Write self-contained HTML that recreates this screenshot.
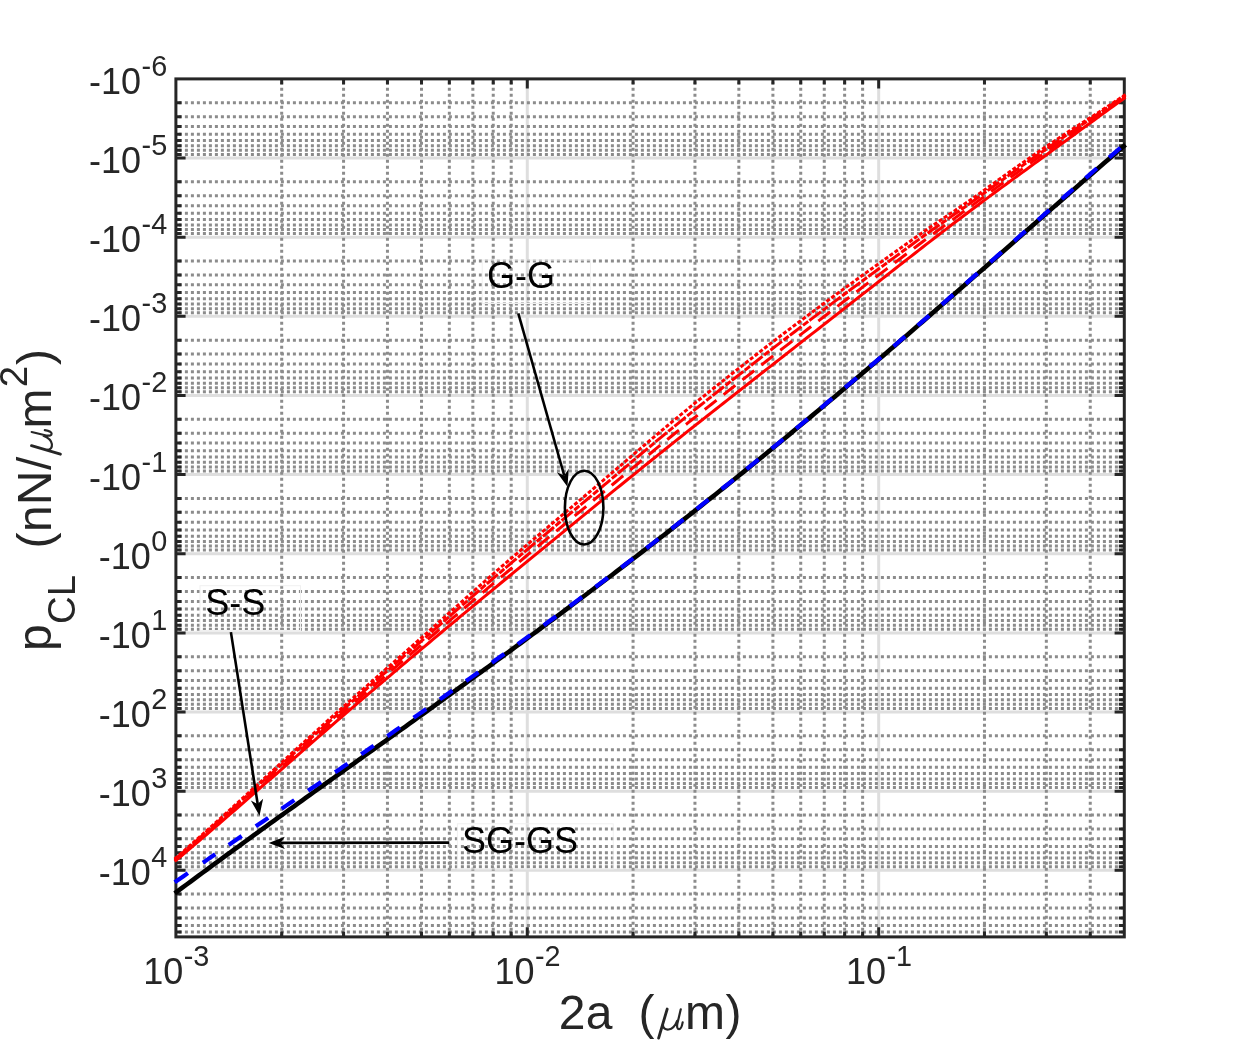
<!DOCTYPE html>
<html><head><meta charset="utf-8"><title>Chart</title>
<style>html,body{margin:0;padding:0;background:#fff;}body{width:1242px;height:1053px;overflow:hidden;font-family:"Liberation Sans",sans-serif;}svg{display:block;will-change:transform;}</style>
</head><body>
<svg width="1242" height="1053" viewBox="0 0 1242 1053">
<rect x="0" y="0" width="1242" height="1053" fill="#fff"/>
<g fill="none" stroke="#dedede" stroke-width="3">
<path d="M175.90 158.04H1124.30"/>
<path d="M175.90 237.18H1124.30"/>
<path d="M175.90 316.32H1124.30"/>
<path d="M175.90 395.46H1124.30"/>
<path d="M175.90 474.60H1124.30"/>
<path d="M175.90 553.74H1124.30"/>
<path d="M175.90 632.88H1124.30"/>
<path d="M175.90 712.02H1124.30"/>
<path d="M175.90 791.16H1124.30"/>
<path d="M175.90 870.30H1124.30"/>
<path d="M527.29 78.70V936.90"/>
<path d="M878.69 78.70V936.90"/>
</g>
<g fill="none" stroke="#8c8c8c" stroke-width="3" stroke-dasharray="3 3">
<path d="M178.90 102.72H1124.30"/>
<path d="M178.90 116.66H1124.30"/>
<path d="M178.90 126.55H1124.30"/>
<path d="M178.90 134.22H1124.30"/>
<path d="M178.90 140.48H1124.30"/>
<path d="M178.90 145.78H1124.30"/>
<path d="M178.90 150.37H1124.30"/>
<path d="M178.90 154.42H1124.30"/>
<path d="M178.90 181.86H1124.30"/>
<path d="M178.90 195.80H1124.30"/>
<path d="M178.90 205.69H1124.30"/>
<path d="M178.90 213.36H1124.30"/>
<path d="M178.90 219.62H1124.30"/>
<path d="M178.90 224.92H1124.30"/>
<path d="M178.90 229.51H1124.30"/>
<path d="M178.90 233.56H1124.30"/>
<path d="M178.90 261.00H1124.30"/>
<path d="M178.90 274.94H1124.30"/>
<path d="M178.90 284.83H1124.30"/>
<path d="M178.90 292.50H1124.30"/>
<path d="M178.90 298.76H1124.30"/>
<path d="M178.90 304.06H1124.30"/>
<path d="M178.90 308.65H1124.30"/>
<path d="M178.90 312.70H1124.30"/>
<path d="M178.90 340.14H1124.30"/>
<path d="M178.90 354.08H1124.30"/>
<path d="M178.90 363.97H1124.30"/>
<path d="M178.90 371.64H1124.30"/>
<path d="M178.90 377.90H1124.30"/>
<path d="M178.90 383.20H1124.30"/>
<path d="M178.90 387.79H1124.30"/>
<path d="M178.90 391.84H1124.30"/>
<path d="M178.90 419.28H1124.30"/>
<path d="M178.90 433.22H1124.30"/>
<path d="M178.90 443.11H1124.30"/>
<path d="M178.90 450.78H1124.30"/>
<path d="M178.90 457.04H1124.30"/>
<path d="M178.90 462.34H1124.30"/>
<path d="M178.90 466.93H1124.30"/>
<path d="M178.90 470.98H1124.30"/>
<path d="M178.90 498.42H1124.30"/>
<path d="M178.90 512.36H1124.30"/>
<path d="M178.90 522.25H1124.30"/>
<path d="M178.90 529.92H1124.30"/>
<path d="M178.90 536.18H1124.30"/>
<path d="M178.90 541.48H1124.30"/>
<path d="M178.90 546.07H1124.30"/>
<path d="M178.90 550.12H1124.30"/>
<path d="M178.90 577.56H1124.30"/>
<path d="M178.90 591.50H1124.30"/>
<path d="M178.90 601.39H1124.30"/>
<path d="M178.90 609.06H1124.30"/>
<path d="M178.90 615.32H1124.30"/>
<path d="M178.90 620.62H1124.30"/>
<path d="M178.90 625.21H1124.30"/>
<path d="M178.90 629.26H1124.30"/>
<path d="M178.90 656.70H1124.30"/>
<path d="M178.90 670.64H1124.30"/>
<path d="M178.90 680.53H1124.30"/>
<path d="M178.90 688.20H1124.30"/>
<path d="M178.90 694.46H1124.30"/>
<path d="M178.90 699.76H1124.30"/>
<path d="M178.90 704.35H1124.30"/>
<path d="M178.90 708.40H1124.30"/>
<path d="M178.90 735.84H1124.30"/>
<path d="M178.90 749.78H1124.30"/>
<path d="M178.90 759.67H1124.30"/>
<path d="M178.90 767.34H1124.30"/>
<path d="M178.90 773.60H1124.30"/>
<path d="M178.90 778.90H1124.30"/>
<path d="M178.90 783.49H1124.30"/>
<path d="M178.90 787.54H1124.30"/>
<path d="M178.90 814.98H1124.30"/>
<path d="M178.90 828.92H1124.30"/>
<path d="M178.90 838.81H1124.30"/>
<path d="M178.90 846.48H1124.30"/>
<path d="M178.90 852.74H1124.30"/>
<path d="M178.90 858.04H1124.30"/>
<path d="M178.90 862.63H1124.30"/>
<path d="M178.90 866.68H1124.30"/>
<path d="M178.90 894.12H1124.30"/>
<path d="M178.90 908.06H1124.30"/>
<path d="M178.90 917.95H1124.30"/>
<path d="M178.90 925.62H1124.30"/>
<path d="M178.90 931.88H1124.30"/>
<path d="M281.68 81.70V936.90"/>
<path d="M343.56 81.70V936.90"/>
<path d="M387.46 81.70V936.90"/>
<path d="M421.51 81.70V936.90"/>
<path d="M449.34 81.70V936.90"/>
<path d="M472.86 81.70V936.90"/>
<path d="M493.24 81.70V936.90"/>
<path d="M511.21 81.70V936.90"/>
<path d="M633.07 81.70V936.90"/>
<path d="M694.95 81.70V936.90"/>
<path d="M738.85 81.70V936.90"/>
<path d="M772.91 81.70V936.90"/>
<path d="M800.73 81.70V936.90"/>
<path d="M824.26 81.70V936.90"/>
<path d="M844.63 81.70V936.90"/>
<path d="M862.61 81.70V936.90"/>
<path d="M984.47 81.70V936.90"/>
<path d="M1046.34 81.70V936.90"/>
<path d="M1090.25 81.70V936.90"/>
</g>
<g fill="none" stroke="#262626" stroke-width="3">
<path d="M175.90 158.04h9.7M1124.30 158.04h-9.7"/>
<path d="M175.90 237.18h9.7M1124.30 237.18h-9.7"/>
<path d="M175.90 316.32h9.7M1124.30 316.32h-9.7"/>
<path d="M175.90 395.46h9.7M1124.30 395.46h-9.7"/>
<path d="M175.90 474.60h9.7M1124.30 474.60h-9.7"/>
<path d="M175.90 553.74h9.7M1124.30 553.74h-9.7"/>
<path d="M175.90 632.88h9.7M1124.30 632.88h-9.7"/>
<path d="M175.90 712.02h9.7M1124.30 712.02h-9.7"/>
<path d="M175.90 791.16h9.7M1124.30 791.16h-9.7"/>
<path d="M175.90 870.30h9.7M1124.30 870.30h-9.7"/>
<path d="M175.90 102.72h5.5M1124.30 102.72h-5.5"/>
<path d="M175.90 116.66h5.5M1124.30 116.66h-5.5"/>
<path d="M175.90 126.55h5.5M1124.30 126.55h-5.5"/>
<path d="M175.90 134.22h5.5M1124.30 134.22h-5.5"/>
<path d="M175.90 140.48h5.5M1124.30 140.48h-5.5"/>
<path d="M175.90 145.78h5.5M1124.30 145.78h-5.5"/>
<path d="M175.90 150.37h5.5M1124.30 150.37h-5.5"/>
<path d="M175.90 154.42h5.5M1124.30 154.42h-5.5"/>
<path d="M175.90 181.86h5.5M1124.30 181.86h-5.5"/>
<path d="M175.90 195.80h5.5M1124.30 195.80h-5.5"/>
<path d="M175.90 205.69h5.5M1124.30 205.69h-5.5"/>
<path d="M175.90 213.36h5.5M1124.30 213.36h-5.5"/>
<path d="M175.90 219.62h5.5M1124.30 219.62h-5.5"/>
<path d="M175.90 224.92h5.5M1124.30 224.92h-5.5"/>
<path d="M175.90 229.51h5.5M1124.30 229.51h-5.5"/>
<path d="M175.90 233.56h5.5M1124.30 233.56h-5.5"/>
<path d="M175.90 261.00h5.5M1124.30 261.00h-5.5"/>
<path d="M175.90 274.94h5.5M1124.30 274.94h-5.5"/>
<path d="M175.90 284.83h5.5M1124.30 284.83h-5.5"/>
<path d="M175.90 292.50h5.5M1124.30 292.50h-5.5"/>
<path d="M175.90 298.76h5.5M1124.30 298.76h-5.5"/>
<path d="M175.90 304.06h5.5M1124.30 304.06h-5.5"/>
<path d="M175.90 308.65h5.5M1124.30 308.65h-5.5"/>
<path d="M175.90 312.70h5.5M1124.30 312.70h-5.5"/>
<path d="M175.90 340.14h5.5M1124.30 340.14h-5.5"/>
<path d="M175.90 354.08h5.5M1124.30 354.08h-5.5"/>
<path d="M175.90 363.97h5.5M1124.30 363.97h-5.5"/>
<path d="M175.90 371.64h5.5M1124.30 371.64h-5.5"/>
<path d="M175.90 377.90h5.5M1124.30 377.90h-5.5"/>
<path d="M175.90 383.20h5.5M1124.30 383.20h-5.5"/>
<path d="M175.90 387.79h5.5M1124.30 387.79h-5.5"/>
<path d="M175.90 391.84h5.5M1124.30 391.84h-5.5"/>
<path d="M175.90 419.28h5.5M1124.30 419.28h-5.5"/>
<path d="M175.90 433.22h5.5M1124.30 433.22h-5.5"/>
<path d="M175.90 443.11h5.5M1124.30 443.11h-5.5"/>
<path d="M175.90 450.78h5.5M1124.30 450.78h-5.5"/>
<path d="M175.90 457.04h5.5M1124.30 457.04h-5.5"/>
<path d="M175.90 462.34h5.5M1124.30 462.34h-5.5"/>
<path d="M175.90 466.93h5.5M1124.30 466.93h-5.5"/>
<path d="M175.90 470.98h5.5M1124.30 470.98h-5.5"/>
<path d="M175.90 498.42h5.5M1124.30 498.42h-5.5"/>
<path d="M175.90 512.36h5.5M1124.30 512.36h-5.5"/>
<path d="M175.90 522.25h5.5M1124.30 522.25h-5.5"/>
<path d="M175.90 529.92h5.5M1124.30 529.92h-5.5"/>
<path d="M175.90 536.18h5.5M1124.30 536.18h-5.5"/>
<path d="M175.90 541.48h5.5M1124.30 541.48h-5.5"/>
<path d="M175.90 546.07h5.5M1124.30 546.07h-5.5"/>
<path d="M175.90 550.12h5.5M1124.30 550.12h-5.5"/>
<path d="M175.90 577.56h5.5M1124.30 577.56h-5.5"/>
<path d="M175.90 591.50h5.5M1124.30 591.50h-5.5"/>
<path d="M175.90 601.39h5.5M1124.30 601.39h-5.5"/>
<path d="M175.90 609.06h5.5M1124.30 609.06h-5.5"/>
<path d="M175.90 615.32h5.5M1124.30 615.32h-5.5"/>
<path d="M175.90 620.62h5.5M1124.30 620.62h-5.5"/>
<path d="M175.90 625.21h5.5M1124.30 625.21h-5.5"/>
<path d="M175.90 629.26h5.5M1124.30 629.26h-5.5"/>
<path d="M175.90 656.70h5.5M1124.30 656.70h-5.5"/>
<path d="M175.90 670.64h5.5M1124.30 670.64h-5.5"/>
<path d="M175.90 680.53h5.5M1124.30 680.53h-5.5"/>
<path d="M175.90 688.20h5.5M1124.30 688.20h-5.5"/>
<path d="M175.90 694.46h5.5M1124.30 694.46h-5.5"/>
<path d="M175.90 699.76h5.5M1124.30 699.76h-5.5"/>
<path d="M175.90 704.35h5.5M1124.30 704.35h-5.5"/>
<path d="M175.90 708.40h5.5M1124.30 708.40h-5.5"/>
<path d="M175.90 735.84h5.5M1124.30 735.84h-5.5"/>
<path d="M175.90 749.78h5.5M1124.30 749.78h-5.5"/>
<path d="M175.90 759.67h5.5M1124.30 759.67h-5.5"/>
<path d="M175.90 767.34h5.5M1124.30 767.34h-5.5"/>
<path d="M175.90 773.60h5.5M1124.30 773.60h-5.5"/>
<path d="M175.90 778.90h5.5M1124.30 778.90h-5.5"/>
<path d="M175.90 783.49h5.5M1124.30 783.49h-5.5"/>
<path d="M175.90 787.54h5.5M1124.30 787.54h-5.5"/>
<path d="M175.90 814.98h5.5M1124.30 814.98h-5.5"/>
<path d="M175.90 828.92h5.5M1124.30 828.92h-5.5"/>
<path d="M175.90 838.81h5.5M1124.30 838.81h-5.5"/>
<path d="M175.90 846.48h5.5M1124.30 846.48h-5.5"/>
<path d="M175.90 852.74h5.5M1124.30 852.74h-5.5"/>
<path d="M175.90 858.04h5.5M1124.30 858.04h-5.5"/>
<path d="M175.90 862.63h5.5M1124.30 862.63h-5.5"/>
<path d="M175.90 866.68h5.5M1124.30 866.68h-5.5"/>
<path d="M175.90 894.12h5.5M1124.30 894.12h-5.5"/>
<path d="M175.90 908.06h5.5M1124.30 908.06h-5.5"/>
<path d="M175.90 917.95h5.5M1124.30 917.95h-5.5"/>
<path d="M175.90 925.62h5.5M1124.30 925.62h-5.5"/>
<path d="M175.90 931.88h5.5M1124.30 931.88h-5.5"/>
<path d="M527.29 936.90v-9.7M527.29 78.70v9.7"/>
<path d="M878.69 936.90v-9.7M878.69 78.70v9.7"/>
<path d="M281.68 936.90v-5.5M281.68 78.70v5.5"/>
<path d="M343.56 936.90v-5.5M343.56 78.70v5.5"/>
<path d="M387.46 936.90v-5.5M387.46 78.70v5.5"/>
<path d="M421.51 936.90v-5.5M421.51 78.70v5.5"/>
<path d="M449.34 936.90v-5.5M449.34 78.70v5.5"/>
<path d="M472.86 936.90v-5.5M472.86 78.70v5.5"/>
<path d="M493.24 936.90v-5.5M493.24 78.70v5.5"/>
<path d="M511.21 936.90v-5.5M511.21 78.70v5.5"/>
<path d="M633.07 936.90v-5.5M633.07 78.70v5.5"/>
<path d="M694.95 936.90v-5.5M694.95 78.70v5.5"/>
<path d="M738.85 936.90v-5.5M738.85 78.70v5.5"/>
<path d="M772.91 936.90v-5.5M772.91 78.70v5.5"/>
<path d="M800.73 936.90v-5.5M800.73 78.70v5.5"/>
<path d="M824.26 936.90v-5.5M824.26 78.70v5.5"/>
<path d="M844.63 936.90v-5.5M844.63 78.70v5.5"/>
<path d="M862.61 936.90v-5.5M862.61 78.70v5.5"/>
<path d="M984.47 936.90v-5.5M984.47 78.70v5.5"/>
<path d="M1046.34 936.90v-5.5M1046.34 78.70v5.5"/>
<path d="M1090.25 936.90v-5.5M1090.25 78.70v5.5"/>
</g>
<rect x="175.90" y="78.90" width="948.40" height="858.00" fill="none" stroke="#262626" stroke-width="3"/>
<g fill="none" stroke-linejoin="round">
<path d="M174.70 861.40L178.68 858.08L182.66 854.74L186.63 851.40L190.61 848.04L194.59 844.67L198.57 841.30L202.55 837.91L206.53 834.51L210.50 831.11L214.48 827.69L218.46 824.27L222.44 820.84L226.42 817.40L230.40 813.96L234.37 810.51L238.35 807.05L242.33 803.59L246.31 800.12L250.29 796.65L254.26 793.18L258.24 789.70L262.22 786.22L266.20 782.74L270.18 779.25L274.16 775.76L278.13 772.28L282.11 768.79L286.09 765.30L290.07 761.82L294.05 758.33L298.03 754.85L302.00 751.37L305.98 747.89L309.96 744.42L313.94 740.95L317.92 737.49L321.89 734.03L325.87 730.57L329.85 727.12L333.83 723.68L337.81 720.24L341.79 716.81L345.76 713.38L349.74 709.96L353.72 706.55L357.70 703.13L361.68 699.73L365.66 696.33L369.63 692.94L373.61 689.55L377.59 686.16L381.57 682.78L385.55 679.40L389.53 676.03L393.50 672.66L397.48 669.29L401.46 665.93L405.44 662.57L409.42 659.22L413.39 655.86L417.37 652.52L421.35 649.17L425.33 645.83L429.31 642.50L433.29 639.17L437.26 635.84L441.24 632.51L445.22 629.19L449.20 625.87L453.18 622.56L457.16 619.25L461.13 615.94L465.11 612.63L469.09 609.33L473.07 606.04L477.05 602.74L481.02 599.45L485.00 596.16L488.98 592.87L492.96 589.59L496.94 586.31L500.92 583.03L504.89 579.75L508.87 576.48L512.85 573.20L516.83 569.93L520.81 566.66L524.79 563.40L528.76 560.13L532.74 556.87L536.72 553.61L540.70 550.35L544.68 547.09L548.65 543.83L552.63 540.58L556.61 537.32L560.59 534.07L564.57 530.82L568.55 527.57L572.52 524.33L576.50 521.08L580.48 517.83L584.46 514.59L588.44 511.35L592.42 508.11L596.39 504.87L600.37 501.64L604.35 498.40L608.33 495.17L612.31 491.94L616.28 488.71L620.26 485.49L624.24 482.26L628.22 479.04L632.20 475.83L636.18 472.61L640.15 469.40L644.13 466.19L648.11 462.99L652.09 459.79L656.07 456.60L660.05 453.40L664.02 450.22L668.00 447.04L671.98 443.86L675.96 440.69L679.94 437.52L683.92 434.36L687.89 431.20L691.87 428.04L695.85 424.89L699.83 421.75L703.81 418.61L707.78 415.47L711.76 412.33L715.74 409.20L719.72 406.08L723.70 402.95L727.68 399.83L731.65 396.71L735.63 393.59L739.61 390.48L743.59 387.36L747.57 384.25L751.55 381.13L755.52 378.02L759.50 374.91L763.48 371.79L767.46 368.68L771.44 365.56L775.41 362.45L779.39 359.34L783.37 356.22L787.35 353.11L791.33 350.00L795.31 346.88L799.28 343.77L803.26 340.65L807.24 337.54L811.22 334.43L815.20 331.31L819.18 328.20L823.15 325.08L827.13 321.97L831.11 318.85L835.09 315.74L839.07 312.63L843.04 309.51L847.02 306.40L851.00 303.28L854.98 300.17L858.96 297.05L862.94 293.94L866.91 290.83L870.89 287.71L874.87 284.60L878.85 281.48L882.83 278.37L886.81 275.25L890.78 272.14L894.76 269.02L898.74 265.91L902.72 262.79L906.70 259.68L910.67 256.57L914.65 253.46L918.63 250.36L922.61 247.26L926.59 244.17L930.57 241.09L934.54 238.02L938.52 234.95L942.50 231.89L946.48 228.84L950.46 225.80L954.44 222.77L958.41 219.74L962.39 216.73L966.37 213.72L970.35 210.72L974.33 207.73L978.31 204.76L982.28 201.79L986.26 198.84L990.24 195.90L994.22 192.97L998.20 190.04L1002.17 187.13L1006.15 184.22L1010.13 181.31L1014.11 178.41L1018.09 175.51L1022.07 172.60L1026.04 169.70L1030.02 166.80L1034.00 163.90L1037.98 161.00L1041.96 158.10L1045.94 155.20L1049.91 152.30L1053.89 149.40L1057.87 146.51L1061.85 143.61L1065.83 140.71L1069.80 137.82L1073.78 134.92L1077.76 132.02L1081.74 129.13L1085.72 126.23L1089.70 123.34L1093.67 120.45L1097.65 117.55L1101.63 114.66L1105.61 111.76L1109.59 108.87L1113.57 105.98L1117.54 103.08L1121.52 100.19L1125.50 97.30" stroke="#ff0000" stroke-width="3"/>
<path d="M174.70 860.49L178.68 857.12L182.66 853.73L186.63 850.33L190.61 846.91L194.59 843.49L198.57 840.06L202.55 836.61L206.53 833.16L210.50 829.69L214.48 826.22L218.46 822.73L222.44 819.24L226.42 815.75L230.40 812.24L234.37 808.73L238.35 805.21L242.33 801.69L246.31 798.16L250.29 794.63L254.26 791.10L258.24 787.56L262.22 784.02L266.20 780.48L270.18 776.93L274.16 773.39L278.13 769.84L282.11 766.30L286.09 762.75L290.07 759.21L294.05 755.67L298.03 752.14L302.00 748.60L305.98 745.08L309.96 741.55L313.94 738.04L317.92 734.53L321.89 731.02L325.87 727.52L329.85 724.03L333.83 720.54L337.81 717.06L341.79 713.58L345.76 710.11L349.74 706.65L353.72 703.19L357.70 699.74L361.68 696.29L365.66 692.84L369.63 689.41L373.61 685.97L377.59 682.54L381.57 679.11L385.55 675.69L389.53 672.27L393.50 668.85L397.48 665.43L401.46 662.01L405.44 658.60L409.42 655.19L413.39 651.78L417.37 648.38L421.35 644.97L425.33 641.56L429.31 638.16L433.29 634.75L437.26 631.33L441.24 627.92L445.22 624.51L449.20 621.10L453.18 617.70L457.16 614.29L461.13 610.89L465.11 607.49L469.09 604.10L473.07 600.71L477.05 597.32L481.02 593.95L485.00 590.57L488.98 587.21L492.96 583.85L496.94 580.51L500.92 577.17L504.89 573.83L508.87 570.51L512.85 567.18L516.83 563.86L520.81 560.55L524.79 557.24L528.76 553.93L532.74 550.62L536.72 547.32L540.70 544.02L544.68 540.72L548.65 537.42L552.63 534.13L556.61 530.84L560.59 527.55L564.57 524.25L568.55 520.97L572.52 517.68L576.50 514.39L580.48 511.10L584.46 507.81L588.44 504.52L592.42 501.24L596.39 497.95L600.37 494.65L604.35 491.36L608.33 488.07L612.31 484.78L616.28 481.48L620.26 478.19L624.24 474.90L628.22 471.62L632.20 468.33L636.18 465.05L640.15 461.77L644.13 458.50L648.11 455.23L652.09 451.97L656.07 448.71L660.05 445.46L664.02 442.22L668.00 438.98L671.98 435.76L675.96 432.54L679.94 429.33L683.92 426.13L687.89 422.94L691.87 419.76L695.85 416.58L699.83 413.42L703.81 410.27L707.78 407.12L711.76 403.97L715.74 400.83L719.72 397.70L723.70 394.56L727.68 391.43L731.65 388.30L735.63 385.18L739.61 382.06L743.59 378.94L747.57 375.82L751.55 372.70L755.52 369.58L759.50 366.47L763.48 363.36L767.46 360.26L771.44 357.16L775.41 354.08L779.39 350.99L783.37 347.92L787.35 344.84L791.33 341.78L795.31 338.71L799.28 335.64L803.26 332.58L807.24 329.51L811.22 326.45L815.20 323.39L819.18 320.33L823.15 317.27L827.13 314.22L831.11 311.18L835.09 308.14L839.07 305.10L843.04 302.06L847.02 299.03L851.00 296.00L854.98 292.97L858.96 289.95L862.94 286.93L866.91 283.91L870.89 280.89L874.87 277.87L878.85 274.86L882.83 271.84L886.81 268.83L890.78 265.82L894.76 262.81L898.74 259.80L902.72 256.79L906.70 253.78L910.67 250.78L914.65 247.77L918.63 244.77L922.61 241.78L926.59 238.81L930.57 235.86L934.54 232.92L938.52 230.00L942.50 227.08L946.48 224.18L950.46 221.28L954.44 218.38L958.41 215.48L962.39 212.58L966.37 209.67L970.35 206.76L974.33 203.84L978.31 200.91L982.28 197.99L986.26 195.07L990.24 192.16L994.22 189.25L998.20 186.36L1002.17 183.47L1006.15 180.58L1010.13 177.71L1014.11 174.83L1018.09 171.97L1022.07 169.11L1026.04 166.26L1030.02 163.41L1034.00 160.57L1037.98 157.74L1041.96 154.91L1045.94 152.08L1049.91 149.26L1053.89 146.45L1057.87 143.63L1061.85 140.83L1065.83 138.02L1069.80 135.22L1073.78 132.43L1077.76 129.66L1081.74 126.91L1085.72 124.15L1089.70 121.40L1093.67 118.63L1097.65 115.85L1101.63 113.07L1105.61 110.29L1109.59 107.51L1113.57 104.72L1117.54 101.92L1121.52 99.10L1125.50 96.28" stroke="#ff0000" stroke-width="3" stroke-dasharray="15 9"/>
<path d="M174.70 859.66L178.68 856.23L182.66 852.79L186.63 849.34L190.61 845.88L194.59 842.40L198.57 838.92L202.55 835.42L206.53 831.91L210.50 828.39L214.48 824.86L218.46 821.32L222.44 817.78L226.42 814.23L230.40 810.67L234.37 807.10L238.35 803.53L242.33 799.95L246.31 796.36L250.29 792.78L254.26 789.19L258.24 785.59L262.22 782.00L266.20 778.40L270.18 774.80L274.16 771.20L278.13 767.60L282.11 764.01L286.09 760.41L290.07 756.82L294.05 753.23L298.03 749.64L302.00 746.06L305.98 742.49L309.96 738.92L313.94 735.36L317.92 731.81L321.89 728.26L325.87 724.72L329.85 721.18L333.83 717.65L337.81 714.13L341.79 710.62L345.76 707.11L349.74 703.60L353.72 700.10L357.70 696.61L361.68 693.12L365.66 689.64L369.63 686.16L373.61 682.69L377.59 679.21L381.57 675.74L385.55 672.27L389.53 668.81L393.50 665.34L397.48 661.88L401.46 658.42L405.44 654.95L409.42 651.49L413.39 648.03L417.37 644.57L421.35 641.11L425.33 637.64L429.31 634.17L433.29 630.68L437.26 627.20L441.24 623.71L445.22 620.22L449.20 616.72L453.18 613.23L457.16 609.74L461.13 606.25L465.11 602.76L469.09 599.28L473.07 595.81L477.05 592.35L481.02 588.89L485.00 585.44L488.98 582.01L492.96 578.59L496.94 575.18L500.92 571.78L504.89 568.40L508.87 565.02L512.85 561.65L516.83 558.29L520.81 554.93L524.79 551.57L528.76 548.23L532.74 544.88L536.72 541.54L540.70 538.20L544.68 534.87L548.65 531.53L552.63 528.20L556.61 524.87L560.59 521.55L564.57 518.22L568.55 514.89L572.52 511.57L576.50 508.24L580.48 504.91L584.46 501.58L588.44 498.25L592.42 494.92L596.39 491.58L600.37 488.24L604.35 484.89L608.33 481.54L612.31 478.19L616.28 474.84L620.26 471.49L624.24 468.14L628.22 464.79L632.20 461.44L636.18 458.10L640.15 454.76L644.13 451.42L648.11 448.10L652.09 444.78L656.07 441.46L660.05 438.16L664.02 434.87L668.00 431.58L671.98 428.31L675.96 425.05L679.94 421.80L683.92 418.57L687.89 415.35L691.87 412.14L695.85 408.95L699.83 405.77L703.81 402.61L707.78 399.45L711.76 396.29L715.74 393.14L719.72 390.00L723.70 386.85L727.68 383.71L731.65 380.58L735.63 377.45L739.61 374.32L743.59 371.19L747.57 368.07L751.55 364.95L755.52 361.83L759.50 358.72L763.48 355.61L767.46 352.52L771.44 349.44L775.41 346.38L779.39 343.33L783.37 340.29L787.35 337.25L791.33 334.22L795.31 331.20L799.28 328.18L803.26 325.16L807.24 322.14L811.22 319.12L815.20 316.10L819.18 313.10L823.15 310.10L827.13 307.11L831.11 304.13L835.09 301.15L839.07 298.18L843.04 295.22L847.02 292.26L851.00 289.31L854.98 286.36L858.96 283.42L862.94 280.48L866.91 277.55L870.89 274.62L874.87 271.70L878.85 268.77L882.83 265.85L886.81 262.93L890.78 260.02L894.76 257.10L898.74 254.19L902.72 251.27L906.70 248.36L910.67 245.45L914.65 242.54L918.63 239.64L922.61 236.75L926.59 233.89L930.57 231.05L934.54 228.24L938.52 225.45L942.50 222.67L946.48 219.89L950.46 217.12L954.44 214.35L958.41 211.57L962.39 208.77L966.37 205.96L970.35 203.12L974.33 200.26L978.31 197.38L982.28 194.49L986.26 191.60L990.24 188.72L994.22 185.84L998.20 182.97L1002.17 180.10L1006.15 177.24L1010.13 174.39L1014.11 171.55L1018.09 168.72L1022.07 165.90L1026.04 163.10L1030.02 160.30L1034.00 157.52L1037.98 154.74L1041.96 151.98L1045.94 149.22L1049.91 146.47L1053.89 143.73L1057.87 141.00L1061.85 138.27L1065.83 135.55L1069.80 132.84L1073.78 130.15L1077.76 127.49L1081.74 124.86L1085.72 122.24L1089.70 119.61L1093.67 116.96L1097.65 114.29L1101.63 111.62L1105.61 108.94L1109.59 106.26L1113.57 103.56L1117.54 100.85L1121.52 98.11L1125.50 95.34" stroke="#ff0000" stroke-width="3" stroke-dasharray="14.5 2 6.5 1.5"/>
<path d="M174.70 858.94L178.68 855.48L182.66 852.00L186.63 848.50L190.61 845.00L194.59 841.48L198.57 837.95L202.55 834.40L206.53 830.85L210.50 827.28L214.48 823.71L218.46 820.12L222.44 816.53L226.42 812.93L230.40 809.32L234.37 805.71L238.35 802.08L242.33 798.46L246.31 794.83L250.29 791.19L254.26 787.56L258.24 783.91L262.22 780.27L266.20 776.63L270.18 772.98L274.16 769.34L278.13 765.70L282.11 762.05L286.09 758.41L290.07 754.78L294.05 751.15L298.03 747.52L302.00 743.90L305.98 740.28L309.96 736.68L313.94 733.08L317.92 729.49L321.89 725.90L325.87 722.32L329.85 718.75L333.83 715.19L337.81 711.63L341.79 708.09L345.76 704.54L349.74 701.00L353.72 697.47L357.70 693.95L361.68 690.43L365.66 686.91L369.63 683.39L373.61 679.88L377.59 676.38L381.57 672.87L385.55 669.36L389.53 665.86L393.50 662.36L397.48 658.85L401.46 655.35L405.44 651.84L409.42 648.34L413.39 644.83L417.37 641.33L421.35 637.82L425.33 634.29L429.31 630.76L433.29 627.22L437.26 623.67L441.24 620.11L445.22 616.55L449.20 612.98L453.18 609.42L457.16 605.85L461.13 602.29L465.11 598.73L469.09 595.18L473.07 591.64L477.05 588.10L481.02 584.58L485.00 581.07L488.98 577.57L492.96 574.09L496.94 570.63L500.92 567.19L504.89 563.76L508.87 560.34L512.85 556.93L516.83 553.53L520.81 550.14L524.79 546.75L528.76 543.36L532.74 539.98L536.72 536.61L540.70 533.24L544.68 529.87L548.65 526.51L552.63 523.15L556.61 519.79L560.59 516.43L564.57 513.07L568.55 509.71L572.52 506.36L576.50 503.00L580.48 499.63L584.46 496.27L588.44 492.90L592.42 489.53L596.39 486.15L600.37 482.77L604.35 479.37L608.33 475.98L612.31 472.58L616.28 469.18L620.26 465.77L624.24 462.37L628.22 458.97L632.20 455.57L636.18 452.17L640.15 448.78L644.13 445.39L648.11 442.01L652.09 438.64L656.07 435.28L660.05 431.93L664.02 428.60L668.00 425.27L671.98 421.96L675.96 418.66L679.94 415.38L683.92 412.12L687.89 408.87L691.87 405.64L695.85 402.44L699.83 399.25L703.81 396.07L707.78 392.91L711.76 389.74L715.74 386.58L719.72 383.43L723.70 380.28L727.68 377.13L731.65 373.99L735.63 370.85L739.61 367.72L743.59 364.59L747.57 361.46L751.55 358.34L755.52 355.22L759.50 352.11L763.48 349.00L767.46 345.92L771.44 342.86L775.41 339.82L779.39 336.79L783.37 333.78L787.35 330.77L791.33 327.78L795.31 324.79L799.28 321.81L803.26 318.83L807.24 315.85L811.22 312.87L815.20 309.89L819.18 306.93L823.15 303.98L827.13 301.04L831.11 298.11L835.09 295.19L839.07 292.28L843.04 289.38L847.02 286.49L851.00 283.60L854.98 280.72L858.96 277.85L862.94 274.99L866.91 272.13L870.89 269.27L874.87 266.43L878.85 263.58L882.83 260.74L886.81 257.90L890.78 255.06L894.76 252.23L898.74 249.40L902.72 246.57L906.70 243.74L910.67 240.91L914.65 238.09L918.63 235.26L922.61 232.46L926.59 229.69L930.57 226.95L934.54 224.25L938.52 221.57L942.50 218.90L946.48 216.24L950.46 213.58L954.44 210.91L958.41 208.23L962.39 205.52L966.37 202.79L970.35 200.02L974.33 197.21L978.31 194.36L982.28 191.51L986.26 188.65L990.24 185.79L994.22 182.93L998.20 180.08L1002.17 177.23L1006.15 174.39L1010.13 171.56L1014.11 168.75L1018.09 165.95L1022.07 163.17L1026.04 160.40L1030.02 157.65L1034.00 154.91L1037.98 152.19L1041.96 149.48L1045.94 146.78L1049.91 144.09L1053.89 141.41L1057.87 138.75L1061.85 136.09L1065.83 133.44L1069.80 130.80L1073.78 128.20L1077.76 125.64L1081.74 123.12L1085.72 120.61L1089.70 118.09L1093.67 115.54L1097.65 112.96L1101.63 110.37L1105.61 107.79L1109.59 105.19L1113.57 102.57L1117.54 99.93L1121.52 97.26L1125.50 94.54" stroke="#ff0000" stroke-width="3" stroke-dasharray="4 2"/>
<path d="M174.70 893.35L178.68 890.39L182.66 887.44L186.63 884.49L190.61 881.55L194.59 878.61L198.57 875.67L202.55 872.74L206.53 869.81L210.50 866.89L214.48 863.97L218.46 861.05L222.44 858.14L226.42 855.23L230.40 852.33L234.37 849.43L238.35 846.53L242.33 843.64L246.31 840.75L250.29 837.86L254.26 834.98L258.24 832.10L262.22 829.22L266.20 826.34L270.18 823.47L274.16 820.60L278.13 817.73L282.11 814.86L286.09 812.00L290.07 809.13L294.05 806.27L298.03 803.41L302.00 800.56L305.98 797.70L309.96 794.85L313.94 792.00L317.92 789.14L321.89 786.29L325.87 783.45L329.85 780.60L333.83 777.75L337.81 774.90L341.79 772.06L345.76 769.21L349.74 766.37L353.72 763.52L357.70 760.68L361.68 757.84L365.66 754.99L369.63 752.15L373.61 749.30L377.59 746.46L381.57 743.61L385.55 740.77L389.53 737.92L393.50 735.08L397.48 732.23L401.46 729.38L405.44 726.53L409.42 723.68L413.39 720.83L417.37 717.97L421.35 715.12L425.33 712.26L429.31 709.41L433.29 706.55L437.26 703.69L441.24 700.82L445.22 697.96L449.20 695.09L453.18 692.22L457.16 689.35L461.13 686.48L465.11 683.60L469.09 680.72L473.07 677.84L477.05 674.96L481.02 672.07L485.00 669.18L488.98 666.29L492.96 663.39L496.94 660.49L500.92 657.59L504.89 654.69L508.87 651.78L512.85 648.87L516.83 645.95L520.81 643.03L524.79 640.11L528.76 637.18L532.74 634.25L536.72 631.32L540.70 628.38L544.68 625.44L548.65 622.49L552.63 619.54L556.61 616.58L560.59 613.62L564.57 610.66L568.55 607.69L572.52 604.72L576.50 601.74L580.48 598.76L584.46 595.77L588.44 592.78L592.42 589.78L596.39 586.78L600.37 583.77L604.35 580.76L608.33 577.74L612.31 574.72L616.28 571.70L620.26 568.66L624.24 565.63L628.22 562.58L632.20 559.53L636.18 556.48L640.15 553.42L644.13 550.36L648.11 547.29L652.09 544.21L656.07 541.13L660.05 538.04L664.02 534.95L668.00 531.85L671.98 528.75L675.96 525.64L679.94 522.52L683.92 519.40L687.89 516.27L691.87 513.14L695.85 510.00L699.83 506.85L703.81 503.70L707.78 500.55L711.76 497.38L715.74 494.21L719.72 491.04L723.70 487.86L727.68 484.67L731.65 481.48L735.63 478.28L739.61 475.08L743.59 471.86L747.57 468.65L751.55 465.43L755.52 462.20L759.50 458.96L763.48 455.72L767.46 452.48L771.44 449.22L775.41 445.96L779.39 442.70L783.37 439.43L787.35 436.15L791.33 432.87L795.31 429.59L799.28 426.29L803.26 422.99L807.24 419.69L811.22 416.38L815.20 413.06L819.18 409.74L823.15 406.42L827.13 403.08L831.11 399.75L835.09 396.40L839.07 393.06L843.04 389.70L847.02 386.34L851.00 382.98L854.98 379.61L858.96 376.24L862.94 372.86L866.91 369.47L870.89 366.09L874.87 362.69L878.85 359.30L882.83 355.89L886.81 352.49L890.78 349.08L894.76 345.66L898.74 342.24L902.72 338.82L906.70 335.39L910.67 331.96L914.65 328.52L918.63 325.08L922.61 321.64L926.59 318.19L930.57 314.74L934.54 311.29L938.52 307.84L942.50 304.38L946.48 300.91L950.46 297.45L954.44 293.98L958.41 290.51L962.39 287.04L966.37 283.57L970.35 280.09L974.33 276.61L978.31 273.13L982.28 269.65L986.26 266.16L990.24 262.68L994.22 259.19L998.20 255.71L1002.17 252.22L1006.15 248.73L1010.13 245.24L1014.11 241.75L1018.09 238.26L1022.07 234.77L1026.04 231.28L1030.02 227.79L1034.00 224.30L1037.98 220.82L1041.96 217.33L1045.94 213.84L1049.91 210.36L1053.89 206.88L1057.87 203.40L1061.85 199.92L1065.83 196.44L1069.80 192.96L1073.78 189.49L1077.76 186.02L1081.74 182.56L1085.72 179.09L1089.70 175.64L1093.67 172.18L1097.65 168.73L1101.63 165.28L1105.61 161.84L1109.59 158.40L1113.57 154.97L1117.54 151.54L1121.52 148.12L1125.50 144.70" stroke="#000" stroke-width="4.6"/>
<path d="M174.70 882.29L179.10 879.23L183.50 876.18L187.90 873.13M202.90 862.73L207.03 859.87L211.16 857.02L215.28 854.16M228.70 844.90L233.04 841.92L237.37 838.93L241.71 835.96M255.80 826.30L259.93 823.48L264.06 820.67L268.18 817.86M281.60 808.75L285.84 805.87L290.08 803.00L294.32 800.12M308.10 790.77L312.42 787.83L316.74 784.89L321.06 781.95M335.10 772.35L339.28 769.48L343.45 766.60L347.63 763.72M361.20 754.33L365.38 751.44L369.55 748.54L373.73 745.63M387.30 736.19L391.51 733.26L395.72 730.32L399.92 727.39M413.60 717.83L417.81 714.88L422.02 711.93L426.22 708.98M439.90 699.38L444.08 696.45L448.25 693.51L452.43 690.58M466.00 681.05L470.14 678.13L474.29 675.22L478.43 672.29M491.90 662.75L496.04 659.79L500.19 656.83L504.33 653.85M517.80 644.16L521.94 641.16L526.09 638.16L530.23 635.15M543.70 625.34L547.84 622.30L551.99 619.26L556.13 616.21M569.60 606.26L573.74 603.19L577.89 600.11L582.03 597.03M595.50 586.97L599.61 583.88L603.72 580.79L607.84 577.69M621.20 567.57L625.23 564.50L629.26 561.42L633.30 558.34M646.40 548.26L650.42 545.15L654.43 542.05L658.45 538.93M671.50 528.77L675.52 525.63L679.53 522.49L683.55 519.34M696.60 509.06L700.60 505.89L704.60 502.72L708.60 499.55M721.60 489.19L725.60 485.99L729.60 482.78L733.60 479.56M746.60 469.08L750.60 465.84L754.60 462.60L758.60 459.35M771.60 448.74L775.52 445.53L779.44 442.31L783.36 439.09M796.10 428.58L800.00 425.35L803.91 422.11L807.81 418.86M820.50 408.29L824.42 405.01L828.34 401.72L832.26 398.43M845.00 387.70L848.92 384.39L852.84 381.07L856.76 377.75M869.50 366.92L873.36 363.64L877.21 360.34L881.07 357.05M893.60 346.31L897.46 342.99L901.31 339.68L905.17 336.36M917.70 325.53L921.54 322.20L925.38 318.87L929.22 315.53M941.70 304.66L945.56 301.30L949.41 297.93L953.27 294.56M965.80 283.58L969.72 280.14L973.64 276.70L977.56 273.26M990.30 262.06L994.11 258.71L997.92 255.36L1001.72 252.01M1014.10 241.10L1017.91 237.75L1021.72 234.39L1025.52 231.03M1037.90 220.11L1041.72 216.73L1045.55 213.36L1049.37 209.99M1061.80 199.03L1065.61 195.68L1069.42 192.33L1073.22 188.98M1085.60 178.12L1089.36 174.83L1093.12 171.54L1096.88 168.25M1109.10 157.60L1112.88 154.32L1116.65 151.05L1120.43 147.78" stroke="#0000ff" stroke-width="4.2"/>
</g>
<path d="M518.30 313.40L564.23 475.50" stroke="#000" stroke-width="2.6" fill="none"/><path d="M567.45 486.85L556.85 472.18L564.23 475.50L568.78 468.80Z" fill="#000"/>
<path d="M230.90 632.10L257.68 804.04" stroke="#000" stroke-width="2.6" fill="none"/><path d="M259.50 815.70L250.87 800.55L257.68 804.04L263.12 798.64Z" fill="#000"/>
<path d="M449.30 842.60L280.40 842.88" stroke="#000" stroke-width="2.6" fill="none"/><path d="M268.60 842.90L284.89 836.67L280.40 842.88L284.91 849.07Z" fill="#000"/>
<ellipse cx="584.15" cy="507.6" rx="19.25" ry="36.9" fill="none" stroke="#000" stroke-width="2.6"/>
<g fill="none" stroke="#f0f0f0" stroke-width="1">
<rect x="482.2" y="260" width="108.3" height="43.5"/>
<rect x="200" y="585.7" width="100.5" height="44.8"/>
<rect x="457.4" y="823.8" width="155.8" height="45.1"/>
</g>
<g font-family="'Liberation Sans', sans-serif" fill="#262626">
<text x="167.2" y="93.80" text-anchor="end" font-size="36">-10<tspan dx="0.5" dy="-18" font-size="28.8">-6</tspan></text>
<text x="167.2" y="172.94" text-anchor="end" font-size="36">-10<tspan dx="0.5" dy="-18" font-size="28.8">-5</tspan></text>
<text x="167.2" y="252.08" text-anchor="end" font-size="36">-10<tspan dx="0.5" dy="-18" font-size="28.8">-4</tspan></text>
<text x="167.2" y="331.22" text-anchor="end" font-size="36">-10<tspan dx="0.5" dy="-18" font-size="28.8">-3</tspan></text>
<text x="167.2" y="410.36" text-anchor="end" font-size="36">-10<tspan dx="0.5" dy="-18" font-size="28.8">-2</tspan></text>
<text x="167.2" y="489.50" text-anchor="end" font-size="36">-10<tspan dx="0.5" dy="-18" font-size="28.8">-1</tspan></text>
<text x="167.2" y="568.64" text-anchor="end" font-size="36">-10<tspan dx="0.5" dy="-18" font-size="28.8">0</tspan></text>
<text x="167.2" y="647.78" text-anchor="end" font-size="36">-10<tspan dx="0.5" dy="-18" font-size="28.8">1</tspan></text>
<text x="167.2" y="726.92" text-anchor="end" font-size="36">-10<tspan dx="0.5" dy="-18" font-size="28.8">2</tspan></text>
<text x="167.2" y="806.06" text-anchor="end" font-size="36">-10<tspan dx="0.5" dy="-18" font-size="28.8">3</tspan></text>
<text x="167.2" y="885.20" text-anchor="end" font-size="36">-10<tspan dx="0.5" dy="-18" font-size="28.8">4</tspan></text>
<text x="143.20" y="983.8" font-size="36">10<tspan dx="0.4" dy="-17.8" font-size="28.8">-3</tspan></text>
<text x="494.59" y="983.8" font-size="36">10<tspan dx="0.4" dy="-17.8" font-size="28.8">-2</tspan></text>
<text x="845.99" y="983.8" font-size="36">10<tspan dx="0.4" dy="-17.8" font-size="28.8">-1</tspan></text>
<text x="558.85" y="1029" font-size="48">2</text>
<text x="585.7" y="1029" font-size="48">a</text>
<text x="638.4" y="1029" font-size="48">(</text>
<g transform="translate(657.2 1029.5) scale(0.95)" fill="none" stroke="#262626" stroke-linecap="round" stroke-linejoin="round"><path d="M10.5 -21.5L1.5 9" stroke-width="3"/><path d="M6 -5C6 -1 9 0.3 12 0C16 -0.5 19.5 -5 21 -9M24.8 -21.3L21.2 -6C20.5 -2.5 21.3 -0.3 23 -0.3C25 -0.3 26 -3 26.8 -7.5" stroke-width="2.3"/></g>
<text x="685" y="1029" font-size="48">m</text>
<text x="725.6" y="1029" font-size="48">)</text>
<g transform="translate(51.4 648) rotate(-90)">
<text x="-3.1" y="0" font-size="48">p</text>
<text x="24.0" y="23.4" font-size="38.4">CL</text>
<text x="99.5" y="0" font-size="48">(</text>
<text x="116.0" y="0" font-size="48">n</text>
<text x="142.8" y="0" font-size="48">N</text>
<text x="177.9" y="0" font-size="48">/</text>
<g transform="translate(192.4 0.5) scale(0.95)" fill="none" stroke="#262626" stroke-linecap="round" stroke-linejoin="round"><path d="M10.5 -21.5L1.5 9" stroke-width="3"/><path d="M6 -5C6 -1 9 0.3 12 0C16 -0.5 19.5 -5 21 -9M24.8 -21.3L21.2 -6C20.5 -2.5 21.3 -0.3 23 -0.3C25 -0.3 26 -3 26.8 -7.5" stroke-width="2.3"/></g>
<text x="219.5" y="0" font-size="48">m</text>
<text x="260.8" y="-24.4" font-size="38.4">2</text>
<text x="282.9" y="0" font-size="48">)</text>
</g>
</g>
<g font-family="'Liberation Sans', sans-serif" fill="#000" font-size="36">
<text x="486.9" y="288.3">G-G</text>
<text x="205.2" y="615.3">S-S</text>
<text x="461.9" y="853.2">SG-GS</text>
</g>
</svg>
</body></html>
